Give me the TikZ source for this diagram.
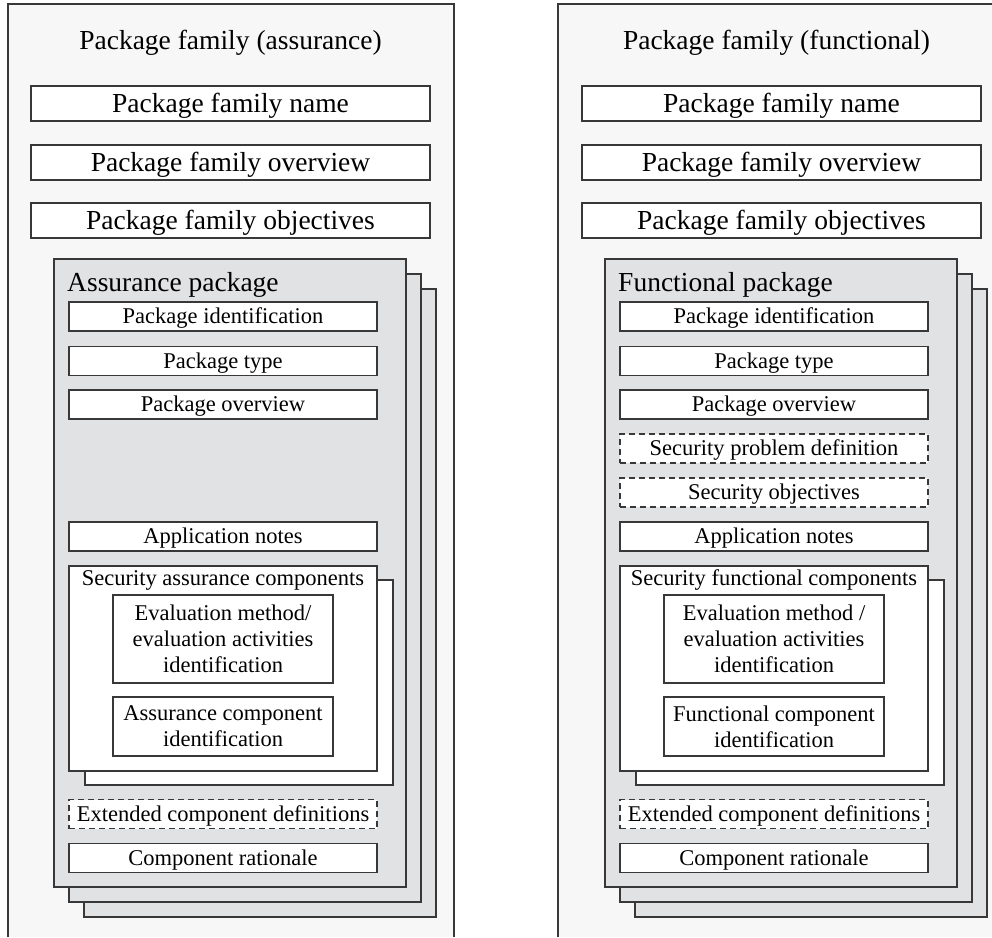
\documentclass[tikz,border=0pt]{standalone}
\usepackage{fontspec}
\setmainfont{Liberation Serif}
\usepackage{tikz}
\usetikzlibrary{positioning}

\definecolor{panelgray}{HTML}{F7F7F7}
\definecolor{sheetgray}{HTML}{E1E2E4}
\definecolor{linegray}{HTML}{383838}

\newcommand\bigtxt{\fontsize{27.5}{32}\selectfont}
\newcommand\smalltxt{\fontsize{22.5}{26}\selectfont}

\tikzset{
  panel/.style={fill=panelgray},
  rim/.style={draw=linegray, line width=1.3pt},
  famrow/.style={rim, fill=white, minimum width=399pt, minimum height=35pt, inner sep=0pt, text depth=1pt, font=\bigtxt},
  pkgrow/.style={rim, fill=white, minimum width=308pt, minimum height=29pt, inner sep=0pt, text depth=1pt, font=\smalltxt},
  optrow/.style={pkgrow, dash pattern=on 6pt off 4pt},
  sheet/.style={rim, fill=sheetgray, minimum width=352pt, minimum height=628pt, inner sep=0pt},
  frame/.style={rim, fill=white, minimum width=308pt, minimum height=205pt, inner sep=0pt},
  idbox/.style={rim, fill=white, minimum width=220pt, inner sep=0pt, align=center, font=\smalltxt},
}

\begin{document}
\begin{tikzpicture}[x=1pt, y=-1pt]
\useasboundingbox (0,0) rectangle (992,937);

% panels
\fill[panel] (8,4) rectangle (454,937);
\draw[rim] (8,937) -- (8,4) -- (454,4) -- (454,937);
\fill[panel] (558,4) rectangle (993,937);
\draw[rim] (558,937) -- (558,4) -- (993,4);

% assurance side
\node[font=\bigtxt] (atitle) at (230.5,43) {Package family (assurance)};
\node[famrow] (aname) at (230.5,103.5) {Package family name};
\node[famrow] (aover) at (230.5,162.5) {Package family overview};
\node[famrow] (aobj) at (230.5,220.5) {Package family objectives};

\foreach \d in {30,15,0} \node[sheet] (asheet\d) at (230+\d,573+\d) {};
\node[font=\bigtxt, anchor=base west, inner sep=0pt] (apkg) at (67,291) {Assurance package};

\node[pkgrow] (aid) at (223,316.5) {Package identification};
\node[pkgrow] (atype) at (223,361) {Package type};
\node[pkgrow] (apov) at (223,404.5) {Package overview};
\node[pkgrow] (anotes) at (223,536.5) {Application notes};

\node[frame] (acompB) at (239,682.5) {};
\node[frame] (acomp) at (223,668.5) {};
\node[font=\smalltxt, anchor=base, inner sep=0pt] (acomptxt) at (223,585) {Security assurance components};
\node[idbox, minimum height=88pt] (aeval) at (223,639) {Evaluation method/\\evaluation activities\\identification};
\node[idbox, minimum height=59pt] (acid) at (223,726.5) {Assurance component\\identification};

\node[optrow] (aext) at (223,814) {Extended component definitions};
\node[pkgrow] (arat) at (223,858) {Component rationale};

% functional side
\begin{scope}[xshift=551pt]
\node[font=\bigtxt] (ftitle) at (225.5,43) {Package family (functional)};
\node[famrow] (fname) at (230.5,103.5) {Package family name};
\node[famrow] (fover) at (230.5,162.5) {Package family overview};
\node[famrow] (fobj) at (230.5,220.5) {Package family objectives};

\foreach \d in {30,15,0} \node[sheet] (fsheet\d) at (230+\d,573+\d) {};
\node[font=\bigtxt, anchor=base west, inner sep=0pt] (fpkg) at (67,291) {Functional package};

\node[pkgrow] (fid) at (223,316.5) {Package identification};
\node[pkgrow] (ftype) at (223,361) {Package type};
\node[pkgrow] (fpov) at (223,404.5) {Package overview};
\node[optrow] (fspd) at (223,448.5) {Security problem definition};
\node[optrow] (fsobj) at (223,492.5) {Security objectives};
\node[pkgrow] (fnotes) at (223,536.5) {Application notes};

\node[frame] (fcompB) at (239,682.5) {};
\node[frame] (fcomp) at (223,668.5) {};
\node[font=\smalltxt, anchor=base, inner sep=0pt] (fcomptxt) at (223,585) {Security functional components};
\node[idbox, minimum height=88pt] (feval) at (223,639) {Evaluation method /\\evaluation activities\\identification};
\node[idbox, minimum height=59pt] (fcid) at (223,726.5) {Functional component\\identification};

\node[optrow] (fext) at (223,814) {Extended component definitions};
\node[pkgrow] (frat) at (223,858) {Component rationale};
\end{scope}
\end{tikzpicture}
\end{document}
